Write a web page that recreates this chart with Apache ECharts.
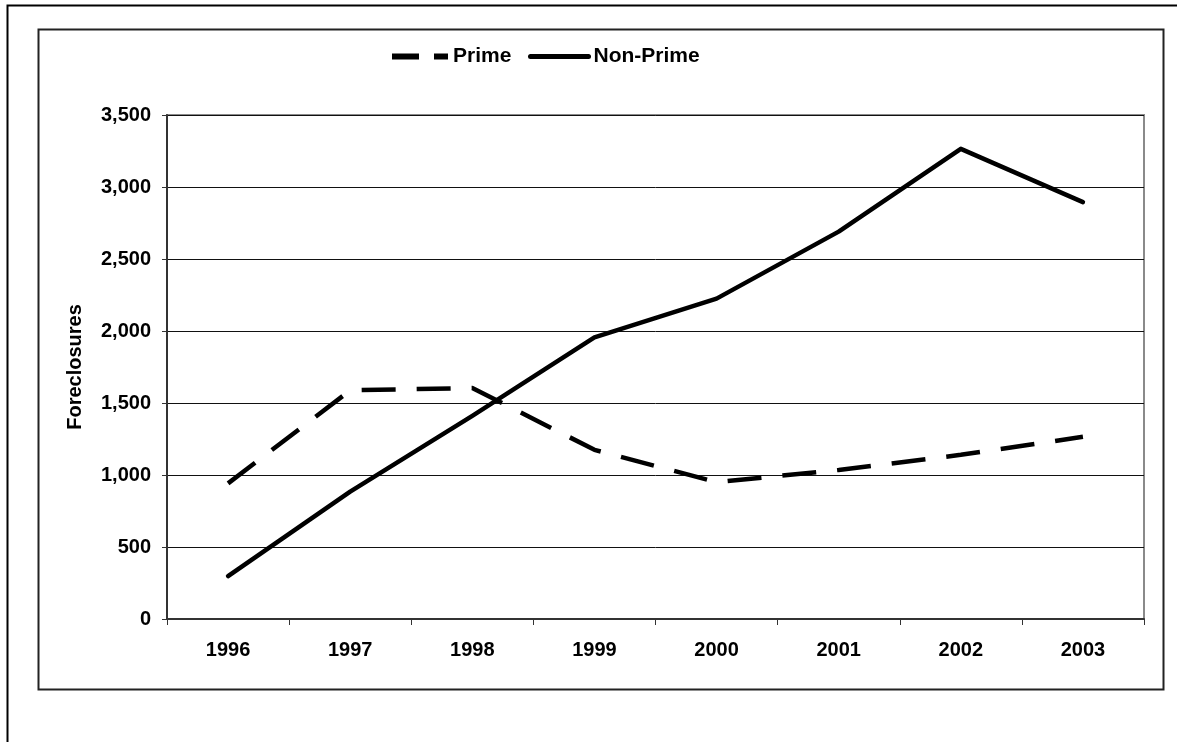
<!DOCTYPE html>
<html>
<head>
<meta charset="utf-8">
<script src="https://cdn.jsdelivr.net/npm/echarts@6/dist/echarts.min.js"></script>
<style>
  html, body { margin: 0; padding: 0; background: #fff; }
  #chart { width: 1177px; height: 742px; }
</style>
</head>
<body>
<div id="chart"></div>
<script>
const years = ['1996', '1997', '1998', '1999', '2000', '2001', '2002', '2003'];
const prime = [942, 1588, 1604, 1175, 950, 1035, 1140, 1265];
const nonPrime = [298, 885, 1410, 1955, 2225, 2690, 3265, 2895];

const chart = echarts.init(document.getElementById('chart'));

const legendText = {
  fontFamily: "'Liberation Sans', Arial, sans-serif",
  fontWeight: 'bold',
  fontSize: 21,
  color: '#000',
  padding: [0, 0, 0, 0]
};
const labelFont = {
  color: '#000',
  fontFamily: "'Liberation Sans', Arial, sans-serif",
  fontWeight: 'bold',
  fontSize: 20
};
const hiddenSymbol = { opacity: 0, color: 'transparent', borderWidth: 0 };

const option = {
  animation: false,
  backgroundColor: '#fff',
  color: ['#000', '#000'],
  graphic: [
    {
      type: 'rect',
      shape: { x: 7.5, y: 5.5, width: 1200, height: 800 },
      style: { fill: 'none', stroke: '#000', lineWidth: 2 },
      silent: true
    },
    {
      type: 'rect',
      shape: { x: 38.5, y: 29.5, width: 1125, height: 660 },
      style: { fill: 'none', stroke: '#222', lineWidth: 2 },
      silent: true
    }
  ],
  grid: {
    left: 167,
    top: 115,
    right: 33,
    bottom: 123,
    show: true,
    borderColor: '#8a8a8a',
    borderWidth: 2
  },
  legend: [
    {
      left: 389,
      top: 46,
      padding: 0,
      itemWidth: 56,
      itemHeight: 14,
      textStyle: legendText,
      data: [
        {
          name: 'Prime',
          itemStyle: hiddenSymbol,
          lineStyle: { type: [27, 15], width: 6, color: '#000', cap: 'butt' }
        }
      ]
    },
    {
      left: 528,
      top: 46,
      padding: 0,
      itemWidth: 58,
      itemHeight: 14,
      textStyle: legendText,
      data: [
        {
          name: 'Non-Prime',
          itemStyle: hiddenSymbol,
          lineStyle: { width: 5, color: '#000', cap: 'round' }
        }
      ]
    }
  ],
  xAxis: {
    type: 'category',
    data: years,
    boundaryGap: true,
    axisLine: { lineStyle: { color: '#333', width: 2 } },
    axisTick: { show: true, length: 6, lineStyle: { color: '#333', width: 1 } },
    axisLabel: Object.assign({ margin: 21 }, labelFont),
    splitLine: { show: false }
  },
  yAxis: {
    type: 'value',
    min: 0,
    max: 3500,
    interval: 500,
    name: 'Foreclosures',
    nameLocation: 'middle',
    nameGap: 82,
    nameTextStyle: labelFont,
    axisLine: { show: true, lineStyle: { color: '#333', width: 2 } },
    axisTick: { show: true, length: 5, lineStyle: { color: '#333', width: 1 } },
    axisLabel: Object.assign({
      margin: 16,
      formatter: v => v.toLocaleString('en-US')
    }, labelFont),
    splitLine: { show: true, lineStyle: { color: '#111', width: 1 } }
  },
  series: [
    {
      name: 'Prime',
      type: 'line',
      data: prime,
      symbol: 'none',
      itemStyle: { color: '#000' },
      lineStyle: { color: '#000', width: 4.5, type: [34, 21], cap: 'butt' }
    },
    {
      name: 'Non-Prime',
      type: 'line',
      data: nonPrime,
      symbol: 'none',
      itemStyle: { color: '#000' },
      lineStyle: { color: '#000', width: 4.5, cap: 'round', join: 'round' }
    }
  ]
};

chart.setOption(option);
</script>
</body>
</html>
